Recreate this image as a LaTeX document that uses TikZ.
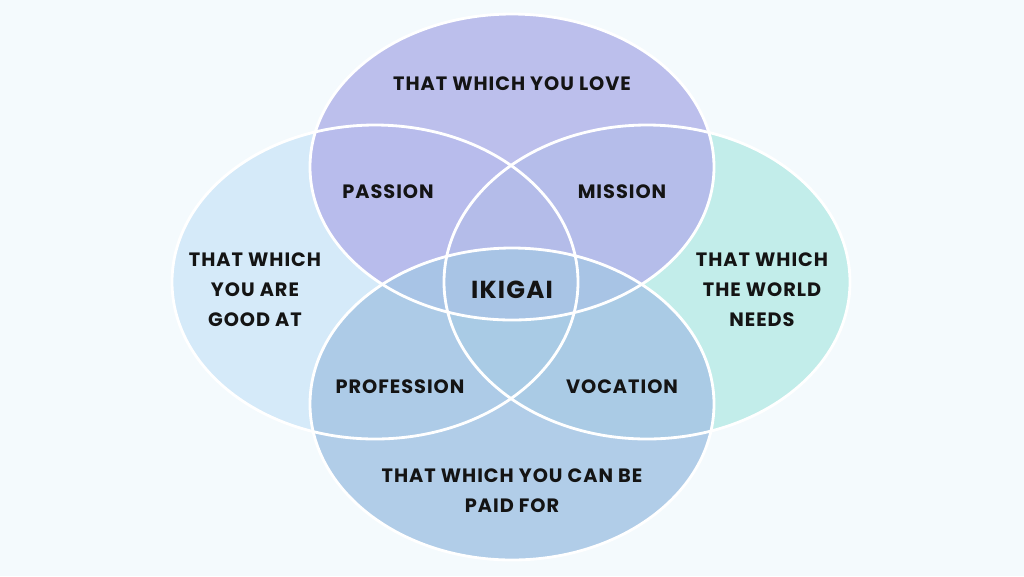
\documentclass[tikz,border=0pt]{standalone}
\usepackage{fontspec}
\setmainfont{Poppins}[UprightFont=* Bold,LetterSpace=5]
\usetikzlibrary{positioning}
\definecolor{bgcol}{HTML}{F4FAFD}
\definecolor{lovecol}{HTML}{B3B5EA}
\definecolor{goodcol}{HTML}{D0E8F9}
\definecolor{worldcol}{HTML}{BAEBE7}
\definecolor{paidcol}{HTML}{A6C6E5}
\definecolor{txtcol}{HTML}{141414}
\begin{document}
\begin{tikzpicture}[x=0.02cm,y=-0.02cm,
circ/.style={fill opacity=0.85},
rim/.style={draw=white,line width=1.6pt},
lbl/.style={text=txtcol,font=\fontsize{11}{17}\selectfont,align=center}
]
\fill[bgcol] (0,0) rectangle (1024,576);
\useasboundingbox (0,0) rectangle (1024,576);
% circles
\fill[goodcol,circ] (375,282) ellipse [x radius=203,y radius=157];
\fill[worldcol,circ] (647,282) ellipse [x radius=203,y radius=157];
\fill[lovecol,circ] (512,167) ellipse [x radius=202,y radius=153];
\fill[paidcol,circ] (512,404) ellipse [x radius=202,y radius=156];
\foreach \cx/\cy in {375/282,647/282}
  \draw[rim] (\cx,\cy) ellipse [x radius=203,y radius=157];
\draw[rim] (512,167) ellipse [x radius=202,y radius=153];
\draw[rim] (512,404) ellipse [x radius=202,y radius=156];
% labels
\node[lbl] (love) at (512,84) {THAT WHICH YOU LOVE};
\node[lbl] (good) at (255,290) {THAT WHICH\\YOU ARE\\GOOD AT};
\node[lbl] (world) at (762,290) {THAT WHICH\\THE WORLD\\NEEDS};
\node[lbl] (paid) at (512,491) {THAT WHICH YOU CAN BE\\PAID FOR};
\node[lbl] (passion) at (388,192) {PASSION};
\node[lbl] (mission) at (622,192) {MISSION};
\node[lbl] (profession) at (400,387) {PROFESSION};
\node[lbl] (vocation) at (622,387) {VOCATION};
\node[lbl,font=\fontsize{14}{17}\selectfont] (ikigai) at (512,290) {IKIGAI};
\end{tikzpicture}
\end{document}
